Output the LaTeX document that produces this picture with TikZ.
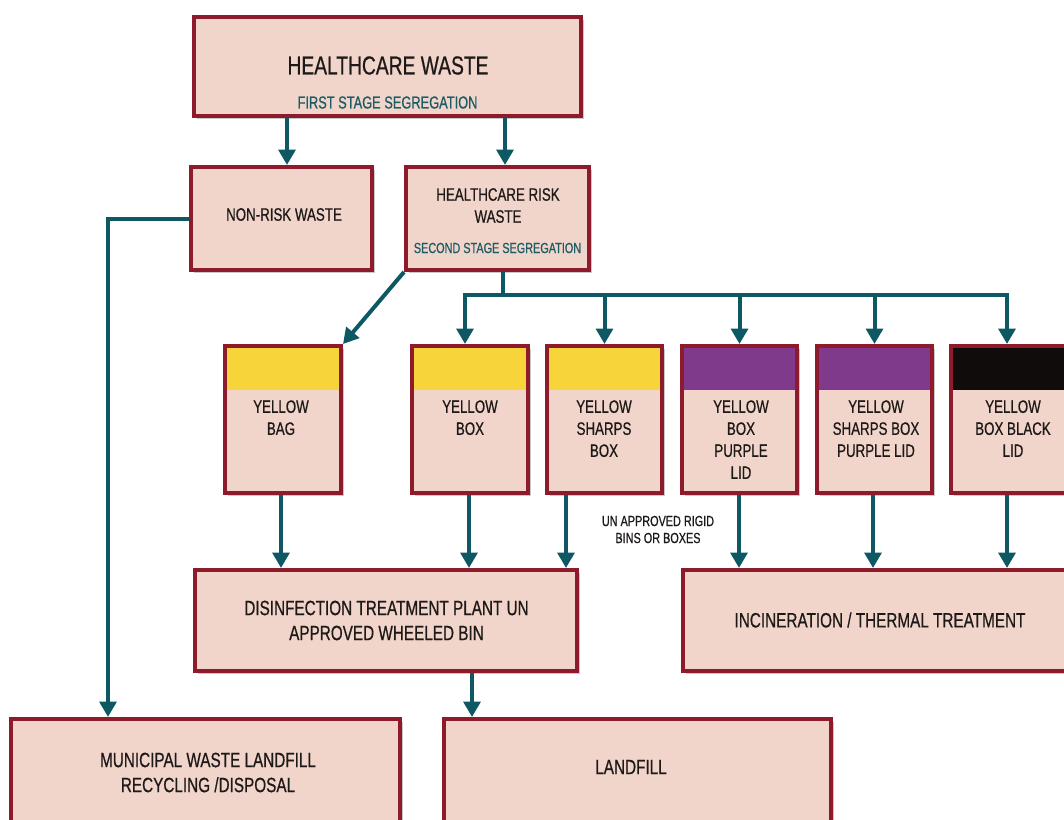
\documentclass[tikz,border=0pt]{standalone}
\usepackage{fontspec}
\setmainfont{Liberation Sans}[FakeStretch=0.74,FakeBold=0.6]
\usetikzlibrary{arrows.meta,shadows}
\definecolor{boxfill}{RGB}{242,213,202}
\definecolor{boxline}{RGB}{142,27,44}
\definecolor{arrowteal}{RGB}{14,88,100}
\definecolor{subteal}{RGB}{28,92,102}
\definecolor{lidyellow}{RGB}{246,212,58}
\definecolor{lidpurple}{RGB}{128,58,140}
\definecolor{lidblack}{RGB}{17,12,12}
\definecolor{txt}{RGB}{30,25,25}
\tikzset{
  box/.style={draw=boxline, fill=boxfill, line width=3pt, inner sep=0pt,
    drop shadow={shadow xshift=2pt, shadow yshift=-2pt, opacity=0.3, fill=black!70}},
  sz/.style 2 args={minimum width=#1*0.75pt, minimum height=#2*0.75pt},
  lid/.style={path picture={\fill[#1] ([yshift=-44*0.75pt]path picture bounding box.north west) rectangle (path picture bounding box.north east);}},
  arr/.style={draw=arrowteal, line width=3pt, -{Triangle[width=12.5pt,length=11.5pt]}},
  conn/.style={draw=arrowteal, line width=3pt},
  t/.style={text=txt, inner sep=0pt, align=center},
  ftitle/.style={font=\fontsize{19.5}{23}\selectfont},
  fbody/.style={font=\fontsize{13.5}{16.5}\selectfont},
  fbig/.style={font=\fontsize{15.5}{18.75}\selectfont},
  fsubA/.style={font=\fontsize{13}{16}\selectfont, text=subteal},
  fsubB/.style={font=\fontsize{11}{13}\selectfont, text=subteal},
  fnote/.style={font=\fontsize{11}{12.75}\selectfont},
}
\begin{document}
\begin{tikzpicture}[x=0.75pt,y=-0.75pt]
\useasboundingbox (0,0) rectangle (1064,819);
\clip (0,0) rectangle (1064,819);

% boxes
\node[box, sz={387}{99}] (top) at (387.5,66.5) {};
\node[box, sz={181}{103}] (nonrisk) at (281.5,218.5) {};
\node[box, sz={183}{103}] (hrw) at (497.5,218.5) {};

\node[box, sz={116}{147}, lid=lidyellow] (bag) at (283,419.5) {};
\node[box, sz={116}{147}, lid=lidyellow] (ybox) at (470,419.5) {};
\node[box, sz={115}{147}, lid=lidyellow] (sharps) at (604.5,419.5) {};
\node[box, sz={115}{147}, lid=lidpurple] (purple) at (739.5,419.5) {};
\node[box, sz={115}{147}, lid=lidpurple] (sharpsp) at (874.5,419.5) {};
\node[box, sz={116}{147}, lid=lidblack] (black) at (1009,419.5) {};

\node[box, sz={382}{101}] (disinf) at (386,620.5) {};
\node[box, sz={386}{101}] (incin) at (876,620.5) {};
\node[box, sz={389}{110}] (muni) at (205.5,774) {};
\node[box, sz={387}{110}] (landfill) at (637.5,774) {};

% texts
\node[t, ftitle] (ttop) at (388,65.5) {HEALTHCARE WASTE};
\node[t, fsubA] (ttopsub) at (387.5,102.5) {FIRST STAGE SEGREGATION};
\node[t, fbody] (tnonrisk) at (284,214.5) {NON-RISK WASTE};
\node[t, fbody] (thrw) at (498,205.5) {HEALTHCARE RISK\\WASTE};
\node[t, fsubB] (thrwsub) at (497.5,248) {SECOND STAGE SEGREGATION};

\node[t, fbody, anchor=north] (tbag) at (281,400) {YELLOW\\BAG};
\node[t, fbody, anchor=north] (tybox) at (470,400) {YELLOW\\BOX};
\node[t, fbody, anchor=north] (tsharps) at (604,400) {YELLOW\\SHARPS\\BOX};
\node[t, fbody, anchor=north] (tpurple) at (741,400) {YELLOW\\BOX\\PURPLE\\LID};
\node[t, fbody, anchor=north] (tsharpsp) at (876,400) {YELLOW\\SHARPS BOX\\PURPLE LID};
\node[t, fbody, anchor=north] (tblack) at (1013,400) {YELLOW\\BOX BLACK\\LID};

\node[t, fnote] (tnote) at (658,529.5) {UN APPROVED RIGID\\BINS OR BOXES};

\node[t, fbig] (tdisinf) at (386.5,620.5) {DISINFECTION TREATMENT PLANT UN\\APPROVED WHEELED BIN};
\node[t, fbig] (tincin) at (880,620) {INCINERATION / THERMAL TREATMENT};
\node[t, fbig] (tmuni) at (208,772.5) {MUNICIPAL WASTE LANDFILL\\RECYCLING /DISPOSAL};
\node[t, fbig] (tlandfill) at (631,767) {LANDFILL};

% helper coordinates
\coordinate (x1) at (287,0);
\coordinate (x2) at (505,0);
\coordinate (xm) at (108,0);
\coordinate (bus) at (503,295);
\coordinate (busL) at (465,295);
\coordinate (busR) at (1007,295);
\coordinate (xbag) at (281,0);
\coordinate (xybox) at (469,0);
\coordinate (xsharps) at (566,0);
\coordinate (xpurple) at (739,0);
\coordinate (xsharpsp) at (873,0);
\coordinate (xblack) at (1007,0);
\coordinate (xdis) at (472,0);

% connectors
\draw[arr] (top.south -| x1) -- (nonrisk.north -| x1);
\draw[arr] (top.south -| x2) -- (hrw.north -| x2);
\draw[arr] (nonrisk.west) -| (muni.north -| xm);
\draw[arr] (hrw.south west) -- (bag.north east);
\draw[conn] (hrw.south -| bus) -- (bus);
\draw[arr] (bus) -| (ybox.north -| busL);
\draw[arr] (bus) -| (black.north -| busR);
\draw[arr] (bus -| sharps) -- (sharps.north);
\draw[arr] (bus -| purple) -- (purple.north);
\draw[arr] (bus -| sharpsp) -- (sharpsp.north);

\draw[arr] (bag.south -| xbag) -- (disinf.north -| xbag);
\draw[arr] (ybox.south -| xybox) -- (disinf.north -| xybox);
\draw[arr] (sharps.south -| xsharps) -- (disinf.north -| xsharps);
\draw[arr] (purple.south -| xpurple) -- (incin.north -| xpurple);
\draw[arr] (sharpsp.south -| xsharpsp) -- (incin.north -| xsharpsp);
\draw[arr] (black.south -| xblack) -- (incin.north -| xblack);
\draw[arr] (disinf.south -| xdis) -- (landfill.north -| xdis);
\end{tikzpicture}
\end{document}
